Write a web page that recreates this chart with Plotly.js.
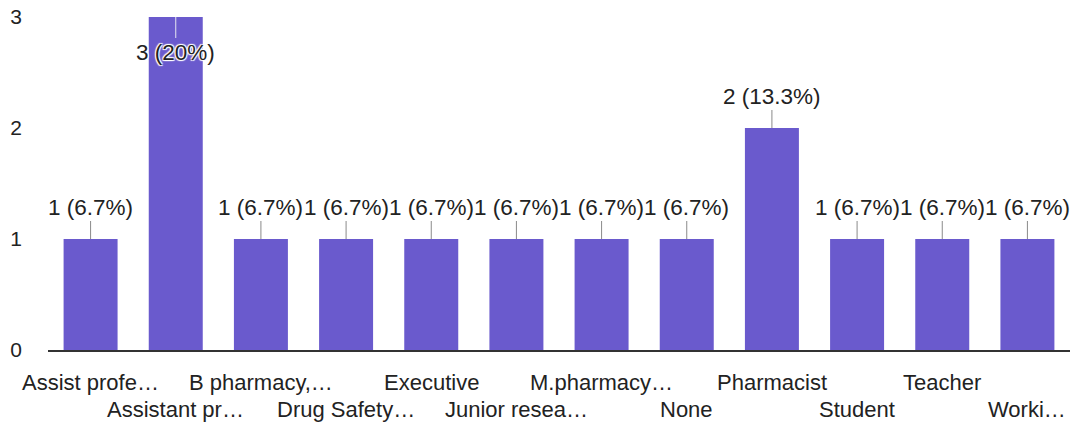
<!DOCTYPE html>
<html>
<head>
<meta charset="utf-8">
<script src="https://cdn.plot.ly/plotly-3.0.1.min.js"></script>
<style>html,body{margin:0;padding:0;background:#fff;}#chart{width:1070px;height:423px;}</style>
</head>
<body>
<div id="chart"></div>
<script>
const categories = ["Assist profe…","Assistant pr…","B pharmacy,…","Drug Safety…","Executive","Junior resea…","M.pharmacy…","None","Pharmacist","Student","Teacher","Worki…"];
const counts = [1,3,1,1,1,1,1,1,2,1,1,1];
const yTicks = [0,1,2,3];

const total = counts.reduce((a,b)=>a+b,0);
const maxCount = Math.max(...counts);
const fmtPct = v => { const p = Math.round(v/total*1000)/10; return (p % 1 === 0 ? p.toFixed(0) : p.toFixed(1)); };

const FONT = "Liberation Sans, Arial, sans-serif";
const annotations = [];

categories.forEach((c,i)=>{
  const inside = counts[i] === maxCount;
  annotations.push({
    x: c, y: counts[i], xref:'x', yref:'y',
    text: counts[i] + " (" + fmtPct(counts[i]) + "%)",
    showarrow: true, arrowhead: 0, arrowwidth: 1,
    arrowcolor: inside ? '#e6e6f0' : '#8a8a8a',
    ax: 0, ay: inside ? 35 : -32,
    font: {family: FONT, size: 22.5, color: '#222', shadow: inside ? '1px 1px 1px #fff, -1px -1px 1px #fff, 1px -1px 1px #fff, -1px 1px 1px #fff' : 'none'}
  });
  annotations.push({
    x: c, y: 0, xref:'x', yref:'paper',
    text: c, showarrow: false,
    yanchor: 'middle', yshift: (i % 2 === 0) ? -32 : -59,
    font: {family: FONT, size: 22, color: '#222'}
  });
});

const trace = {
  type: 'bar', x: categories, y: counts,
  marker: {color: '#6a5acd'},
  hoverinfo: 'none'
};

const layout = {
  width: 1070, height: 423,
  margin: {l: 48, r: 0, t: 17, b: 73, autoexpand: false},
  paper_bgcolor: '#fff', plot_bgcolor: '#fff',
  bargap: 0.366,
  showlegend: false,
  xaxis: {
    type: 'category', range: [-0.5, categories.length - 0.5], autorange: false,
    showticklabels: false, showgrid: false, zeroline: false,
    showline: true, linecolor: '#333', linewidth: 2, ticks: '', automargin: false
  },
  yaxis: {
    range: [0, 3], tickvals: yTicks, showgrid: false, zeroline: false, showline: false,
    ticks: '', ticklabelstandoff: 25, automargin: false,
    tickfont: {family: FONT, size: 21, color: '#222'}
  },
  annotations: annotations
};

Plotly.newPlot('chart', [trace], layout, {displayModeBar: false, staticPlot: true});
</script>
</body>
</html>
